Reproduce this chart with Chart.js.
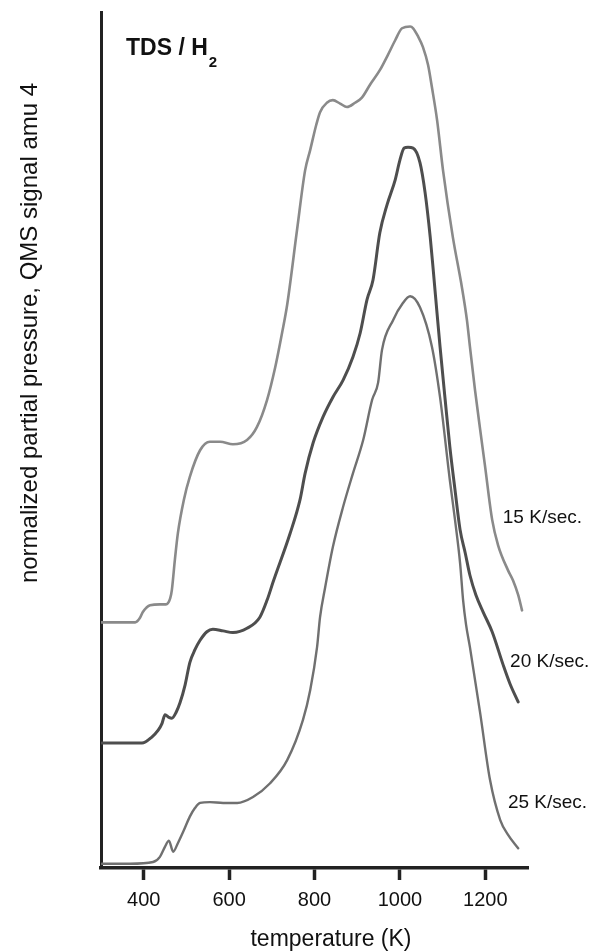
<!DOCTYPE html>
<html>
<head>
<meta charset="utf-8">
<script src="https://cdn.jsdelivr.net/npm/chart.js@4/dist/chart.umd.min.js"></script>
<style>
  html, body { margin: 0; padding: 0; background: #fff; }
  #wrap { width: 592px; height: 952px; }
</style>
</head>
<body>
<div id="wrap"><canvas id="tds" width="592" height="952"></canvas></div>
<script>
// temperature (K) / normalized signal
const temp15 = [300, 380, 391, 398, 415, 438, 452, 462, 466, 473, 480, 494, 508, 532, 555, 579, 609, 642, 665, 689, 708, 724, 736, 759, 778, 790, 804, 813, 829, 843, 860, 876, 895, 911, 930, 953, 972, 989, 1005, 1024, 1031, 1042, 1054, 1066, 1075, 1087, 1101, 1124, 1145, 1157, 1164, 1176, 1188, 1199, 1216, 1230, 1253, 1265, 1277, 1286];
const sig15 = [28.7, 28.7, 29.2, 29.9, 30.7, 30.8, 30.8, 31.5, 32.5, 36.0, 39.1, 43.0, 45.7, 48.8, 49.8, 49.8, 49.5, 50.0, 51.5, 54.7, 58.5, 62.5, 65.8, 74.5, 81.5, 83.9, 86.8, 88.3, 89.4, 89.7, 89.3, 88.9, 89.4, 90.0, 91.5, 93.2, 95.0, 96.7, 98.1, 98.3, 98.1, 97.2, 95.9, 93.8, 91.2, 87.4, 81.5, 73.7, 67.9, 64.0, 60.9, 55.8, 51.2, 47.1, 40.7, 37.7, 34.8, 33.6, 31.9, 30.1];

const temp20 = [302, 396, 419, 434, 443, 450, 459, 466, 476, 485, 497, 508, 520, 532, 548, 562, 586, 609, 642, 672, 689, 703, 743, 766, 778, 797, 820, 843, 867, 890, 907, 923, 937, 953, 970, 989, 1000, 1010, 1019, 1031, 1047, 1059, 1071, 1078, 1087, 1094, 1106, 1117, 1129, 1141, 1153, 1164, 1178, 1195, 1216, 1242, 1258, 1277];
const sig20 = [14.6, 14.6, 15.3, 16.1, 16.9, 17.9, 17.6, 17.5, 18.2, 19.3, 21.4, 24.0, 25.5, 26.6, 27.6, 27.9, 27.7, 27.5, 28.0, 29.3, 31.3, 33.4, 39.1, 43.0, 46.1, 49.7, 52.7, 55.0, 57.0, 59.7, 62.5, 66.4, 68.7, 74.2, 77.5, 80.4, 82.7, 84.1, 84.2, 84.1, 82.4, 78.9, 73.7, 69.9, 64.8, 60.9, 54.7, 49.2, 44.2, 39.5, 36.8, 34.2, 31.9, 29.9, 27.6, 23.7, 21.5, 19.4];

const temp25 = [302, 368, 422, 438, 450, 459, 469, 480, 494, 508, 520, 532, 555, 586, 619, 656, 696, 736, 773, 790, 806, 813, 825, 843, 867, 890, 914, 935, 949, 958, 984, 1007, 1024, 1047, 1075, 1094, 1117, 1129, 1141, 1148, 1155, 1164, 1188, 1211, 1235, 1253, 1277];
const sig25 = [0.5, 0.5, 0.7, 1.3, 2.5, 3.2, 1.9, 2.9, 4.4, 6.0, 7.0, 7.6, 7.7, 7.6, 7.6, 8.3, 9.9, 12.6, 17.3, 20.8, 25.8, 29.3, 32.8, 37.5, 42.2, 46.1, 50.0, 54.7, 56.7, 60.5, 64.0, 66.0, 66.8, 65.5, 60.9, 55.0, 45.3, 40.7, 35.6, 31.3, 28.4, 25.8, 18.1, 10.3, 5.6, 3.9, 2.3];

const seriesNames = ['15 K/sec.', '20 K/sec.', '25 K/sec.'];
const xTicks = [400, 600, 800, 1000, 1200];

// where the rate labels sit, in data units (T, signal)
const labelAt = [[1241, 40.9], [1258, 24.1], [1253, 7.6]];

const FONT = '"Liberation Sans", Arial, Helvetica, sans-serif';

function pts(xs, ys) {
  return xs.map((x, i) => ({ x: x, y: ys[i] }));
}

const textPlugin = {
  id: 'textPlugin',
  afterDraw(chart) {
    const c = chart.ctx;
    const sx = chart.scales.x, sy = chart.scales.y;
    c.save();
    c.fillStyle = '#111';

    // TDS / H2
    c.textBaseline = 'alphabetic';
    c.textAlign = 'left';
    c.font = 'bold 23px ' + FONT;
    c.fillText('TDS / H', 126, 55);
    const w = c.measureText('TDS / H').width;
    c.font = 'bold 15px ' + FONT;
    c.fillText('2', 126 + w + 1, 67);

    // rate labels
    c.font = '19px ' + FONT;
    c.textBaseline = 'middle';
    seriesNames.forEach((name, i) => {
      c.fillText(name, sx.getPixelForValue(labelAt[i][0]), sy.getPixelForValue(labelAt[i][1]));
    });

    // x title (sits a bit right of centre in the original)
    c.textAlign = 'center';
    c.font = '23px ' + FONT;
    c.fillText('temperature (K)', 331, 940);

    // y title
    c.translate(30, 333);
    c.rotate(-Math.PI / 2);
    c.font = '24px ' + FONT;
    c.fillText('normalized partial pressure, QMS signal amu 4', 0, 0);
    c.restore();
  }
};

new Chart(document.getElementById('tds'), {
  type: 'line',
  data: {
    datasets: [{
      label: seriesNames[0],
      data: pts(temp15, sig15),
      borderColor: '#8a8a8a',
      borderWidth: 2.6
    }, {
      label: seriesNames[1],
      data: pts(temp20, sig20),
      borderColor: '#4e4e4e',
      borderWidth: 3
    }, {
      label: seriesNames[2],
      data: pts(temp25, sig25),
      borderColor: '#707070',
      borderWidth: 2.4
    }]
  },
  options: {
    responsive: false,
    animation: false,
    parsing: false,
    elements: {
      point: { radius: 0 },
      line: { cubicInterpolationMode: 'monotone', borderCapStyle: 'round', borderJoinStyle: 'round' }
    },
    layout: { padding: { top: 12, right: 64, left: 0, bottom: 0 } },
    plugins: {
      legend: { display: false },
      tooltip: { enabled: false }
    },
    scales: {
      x: {
        type: 'linear',
        min: 300,
        max: 1300,
        afterBuildTicks: s => { s.ticks = xTicks.map(v => ({ value: v })); },
        afterFit: s => { s.height = 84; },
        grid: {
          display: true,
          drawOnChartArea: false,
          drawTicks: true,
          tickLength: 12,
          tickWidth: 3.5,
          tickColor: '#222'
        },
        border: { display: true, color: '#222', width: 3.5 },
        ticks: {
          color: '#111',
          padding: 8,
          maxRotation: 0,
          font: { family: FONT, size: 20 },
          callback: v => String(v)
        },
        title: { display: false }
      },
      y: {
        type: 'linear',
        min: 0,
        max: 100,
        afterFit: s => { s.width = 101; },
        grid: { display: false, drawTicks: false },
        border: { display: true, color: '#222', width: 3 },
        ticks: { display: false }
      }
    }
  },
  plugins: [textPlugin]
});
</script>
</body>
</html>
